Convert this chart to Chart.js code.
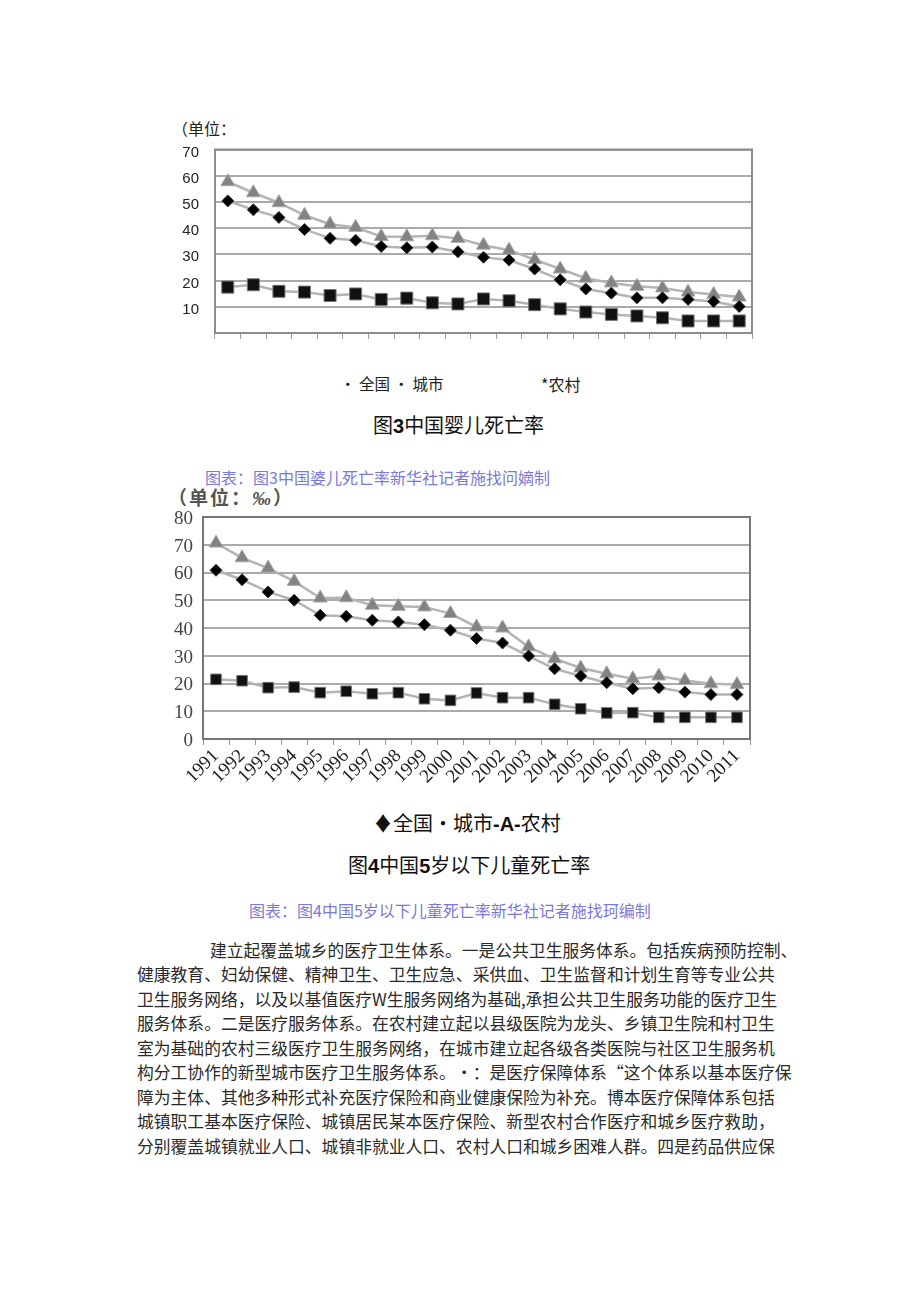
<!DOCTYPE html>
<html>
<head>
<meta charset="utf-8">
<script src="https://cdn.jsdelivr.net/npm/chart.js@4.4.1/dist/chart.umd.min.js"></script>
<style>
    body { margin: 0; background: #fff; width: 920px; height: 1301px; position: relative; overflow: hidden; }
    .t { position: absolute; white-space: nowrap; font-family: "Noto Sans CJK SC", sans-serif; color: #222; }
    .cap { color: #7a78d8; font-size: 16px; }
    .title { font-size: 20px; color: #111; }
    .title b { font-family: "Liberation Sans", sans-serif; font-weight: bold; }
    .body { font-size: 16.8px; color: #2a2a2a; left: 137px; }
    #c1 { position: absolute; left: 160px; top: 140px; }
    #c2 { position: absolute; left: 160px; top: 505px; }
</style>
</head>
<body>
<div class="t" style="left:172px; top:116px; font-size:16px;">（单位：</div>
<canvas id="c1" width="610" height="210"></canvas>
<div class="t" style="left:340px; top:372px; font-size:15.5px;">· 全国 · 城市</div>
<div class="t" style="left:541px; top:372px; font-size:16px;">*农村</div>
<div class="t title" style="left:373px; top:410px;">图<b>3</b>中国婴儿死亡率</div>
<div class="t cap" style="left:205px; top:465px;">图表：图3中国婆儿死亡率新华社记者施找问嫡制</div>

<div class="t" style="left:168px; top:483px; font-size:19px; letter-spacing:2px; font-family:'Liberation Serif','Noto Sans CJK SC',serif; font-weight:bold; color:#555;">（单位：<i>‰</i>）</div>
<canvas id="c2" width="610" height="295"></canvas>
<div class="t title" style="left:373px; top:808px;">♦全国•城市<b>-A-</b>农村</div>
<div class="t title" style="left:348px; top:850px;">图<b>4</b>中国<b>5</b>岁以下儿童死亡率</div>
<div class="t cap" style="left:249px; top:898px;">图表：图4中国5岁以下儿童死亡率新华社记者施找珂编制</div>

<div class="t body" style="left:210px; top:938px;">建立起覆盖城乡的医疗卫生体系。一是公共卫生服务体系。包括疾病预防控制、</div>
<div class="t body" style="top:962px;">健康教育、妇幼保健、精神卫生、卫生应急、采供血、卫生监督和计划生育等专业公共</div>
<div class="t body" style="top:987px;">卫生服务网络，以及以基值医疗W生服务网络为基础,承担公共卫生服务功能的医疗卫生</div>
<div class="t body" style="top:1011px;">服务体系。二是医疗服务体系。在农村建立起以县级医院为龙头、乡镇卫生院和村卫生</div>
<div class="t body" style="top:1036px;">室为基础的农村三级医疗卫生服务网络，在城市建立起各级各类医院与社区卫生服务机</div>
<div class="t body" style="top:1060px;">构分工协作的新型城市医疗卫生服务体系。•：是医疗保障体系“这个体系以基本医疗保</div>
<div class="t body" style="top:1085px;">障为主体、其他多种形式补充医疗保险和商业健康保险为补充。博本医疗保障体系包括</div>
<div class="t body" style="top:1109px;">城镇职工基本医疗保险、城镇居民某本医疗保险、新型农村合作医疗和城乡医疗救助，</div>
<div class="t body" style="top:1134px;">分别覆盖城镇就业人口、城镇非就业人口、农村人口和城乡困难人群。四是药品供应保</div>

<script>
// categories
const years = ['1991', '1992', '1993', '1994', '1995', '1996', '1997', '1998', '1999', '2000',
    '2001', '2002', '2003', '2004', '2005', '2006', '2007', '2008', '2009', '2010', '2011'];

// 图3 婴儿死亡率 (‰)
const infantNational = [50.4, 47.0, 44.1, 39.5, 36.1, 35.4, 33.0, 32.5, 32.8, 31.0,
    28.9, 27.8, 24.4, 20.3, 16.8, 15.2, 13.4, 13.4, 12.8, 12.0, 10.1];
const infantUrban = [17.5, 18.4, 15.9, 15.6, 14.3, 14.9, 12.8, 13.3, 11.5, 11.1,
    13.0, 12.3, 10.8, 9.2, 8.0, 7.1, 6.5, 5.8, 4.6, 4.6, 4.6];
const infantRural = [57.7, 53.5, 49.7, 44.9, 41.5, 40.3, 36.8, 36.7, 37.1, 36.1,
    33.5, 31.6, 28.0, 24.4, 20.9, 19.1, 17.8, 17.2, 15.6, 14.7, 13.7];

// 图4 5岁以下儿童死亡率 (‰)
const under5National = [60.8, 57.4, 53.0, 50.0, 44.6, 44.2, 42.8, 42.2, 41.2, 39.2,
    36.2, 34.6, 29.9, 25.3, 22.7, 20.3, 18.1, 18.5, 16.9, 16.0, 16.0];
const under5Urban = [21.5, 21.0, 18.5, 18.7, 16.7, 17.2, 16.3, 16.7, 14.5, 13.9,
    16.6, 14.9, 14.9, 12.5, 10.9, 9.4, 9.5, 7.8, 7.8, 7.8, 7.8];
const under5Rural = [70.6, 65.3, 61.6, 56.8, 50.8, 50.9, 48.2, 47.8, 47.6, 45.2,
    40.4, 40.0, 33.2, 28.9, 25.6, 23.5, 21.7, 22.7, 21.1, 19.9, 19.6];

const seriesNames = ['全国', '城市', '农村'];

// plain frame round the plot area
const frame = {
    id: 'frame',
    afterDraw(chart, args, opts) {
        const a = chart.chartArea;
        const ctx = chart.ctx;
        ctx.save();
        ctx.strokeStyle = opts.color;
        ctx.lineWidth = 2;
        ctx.strokeRect(a.left, a.top, a.right - a.left, a.bottom - a.top);
        ctx.restore();
    }
};

function makeDatasets(national, urban, rural, size) {
    const line = '#b4b4b4';
    return [
        {
            label: seriesNames[0], data: national, borderColor: line, borderWidth: 2.5,
            pointStyle: 'rectRot', pointRadius: size.diamond, pointBackgroundColor: '#000',
            pointBorderColor: '#333', pointBorderWidth: 1, order: 1
        },
        {
            label: seriesNames[1], data: urban, borderColor: line, borderWidth: 2.5,
            pointStyle: 'rect', pointRadius: size.square, pointBackgroundColor: '#111',
            pointBorderColor: '#777', pointBorderWidth: 1, order: 2
        },
        {
            label: seriesNames[2], data: rural, borderColor: line, borderWidth: 2.5,
            pointStyle: 'triangle', pointRadius: size.triangle, pointBackgroundColor: '#838383',
            pointBorderColor: '#a8a8a8', pointBorderWidth: 1, order: 3
        }
    ];
}

function makeChart(id, cfg) {
    const ctx = document.getElementById(id).getContext('2d');
    return new Chart(ctx, {
        type: 'line',
        data: {
            labels: years,
            datasets: makeDatasets(cfg.national, cfg.urban, cfg.rural, cfg.size)
        },
        options: {
            responsive: false,
            animation: false,
            elements: { line: { tension: 0 } },
            layout: { padding: cfg.padding },
            plugins: {
                legend: { display: false },
                tooltip: { enabled: false },
                frame: { color: cfg.frameColor }
            },
            scales: {
                x: {
                    offset: true,
                    border: { display: false },
                    grid: { offset: true, drawOnChartArea: false, drawTicks: true, tickLength: 6, color: '#999', lineWidth: 1 },
                    ticks: {
                        display: cfg.showYears,
                        autoSkip: false,
                        maxRotation: 45,
                        minRotation: 45,
                        padding: 0,
                        color: '#222',
                        font: { family: 'Liberation Serif', size: 19 }
                    },
                    afterFit(scale) { scale.height = cfg.xHeight; }
                },
                y: {
                    min: 0,
                    max: cfg.max,
                    border: { display: false },
                    // the tick marks are invisible, they only keep the labels off the axis
                    grid: { color: '#aaaaaa', lineWidth: 2, drawTicks: true, tickLength: cfg.labelGap, tickColor: 'rgba(0,0,0,0)' },
                    ticks: {
                        stepSize: 10,
                        padding: 0,
                        labelOffset: cfg.labelOffset,
                        color: cfg.tickColor,
                        font: cfg.tickFont,
                        callback: v => (cfg.hideZero && v === 0) ? '' : v
                    },
                    afterFit(scale) { scale.width = cfg.yWidth; }
                }
            }
        },
        plugins: [frame]
    });
}

document.addEventListener('DOMContentLoaded', () => {
    makeChart('c1', {
        national: infantNational, urban: infantUrban, rural: infantRural,
        size: { diamond: 6, square: 8.5, triangle: 8 },
        padding: { top: 8, right: 18, left: 0, bottom: 0 },
        max: 70, xHeight: 17, yWidth: 55, labelGap: 16, labelOffset: 3,
        tickColor: '#222', tickFont: { family: 'Liberation Sans', size: 15 },
        hideZero: true, showYears: false, frameColor: '#8c8c8c'
    });
    makeChart('c2', {
        national: under5National, urban: under5Urban, rural: under5Rural,
        size: { diamond: 6, square: 7.5, triangle: 8 },
        padding: { top: 12, right: 20, left: 0, bottom: 0 },
        max: 80, xHeight: 61, yWidth: 43, labelGap: 10, labelOffset: 2,
        tickColor: '#444', tickFont: { family: 'Liberation Serif', size: 19 },
        hideZero: false, showYears: true, frameColor: '#777'
    });
});
</script>
</body>
</html>
